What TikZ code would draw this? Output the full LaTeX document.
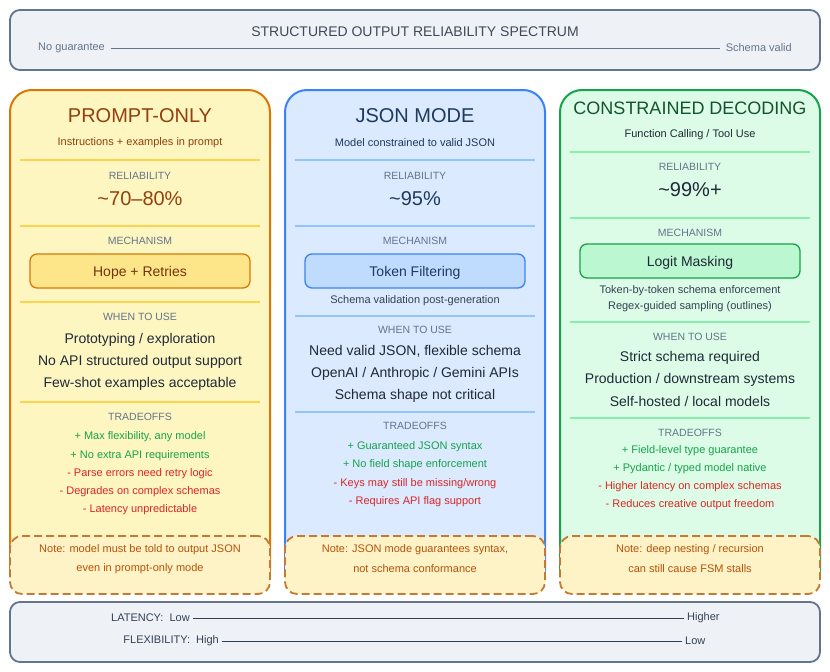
\documentclass[tikz,border=0pt]{standalone}
\usepackage{fontspec}
\setmainfont{Liberation Sans}
\newcommand\fs[1]{\fontsize{#1}{#1}\selectfont}
\definecolor{hdrfill}{HTML}{EEF2F7}
\definecolor{hdrdraw}{HTML}{64748B}
\definecolor{hdrtext}{HTML}{3F4A5A}
\definecolor{labgray}{HTML}{64748B}
\definecolor{bodyc}{HTML}{1F2937}
\definecolor{smallc}{HTML}{334155}
\definecolor{goodc}{HTML}{16A34A}
\definecolor{badc}{HTML}{DC2626}
\definecolor{notefill}{HTML}{FEF3C7}
\definecolor{notec}{HTML}{C27A35}
\definecolor{notetext}{HTML}{B45309}
\definecolor{afill}{HTML}{FEF6C1}
\definecolor{adraw}{HTML}{D97706}
\definecolor{atitle}{HTML}{92400E}
\definecolor{asep}{HTML}{FCD34D}
\definecolor{abox}{HTML}{FDE68A}
\definecolor{bfill}{HTML}{DBEAFE}
\definecolor{bdraw}{HTML}{3B82F6}
\definecolor{btitle}{HTML}{1E3A5F}
\definecolor{bsep}{HTML}{93C5FD}
\definecolor{bbox}{HTML}{BFDBFE}
\definecolor{gfill}{HTML}{DCFCE7}
\definecolor{gdraw}{HTML}{16A34A}
\definecolor{gtitle}{HTML}{14532D}
\definecolor{gsep}{HTML}{86EFAC}
\definecolor{gbox}{HTML}{BBF7D0}
\begin{document}
\begin{tikzpicture}[x=1pt,y=-1pt,
  panel/.style={draw=hdrdraw, fill=hdrfill, line width=1.8pt, rounded corners=10pt, minimum width=810pt, minimum height=60pt, inner sep=0},
  colbox/.style={line width=2pt, rounded corners=22pt, minimum width=260pt, minimum height=502pt, inner sep=0},
  mechbox/.style={line width=1.3pt, rounded corners=7pt, minimum width=220pt, minimum height=34pt, inner sep=0, font=\fs{14}, text height=10pt, text depth=0pt},
  notebox/.style={draw=notec, fill=notefill, line width=1.8pt, dash pattern=on 8pt off 4pt, rounded corners=12pt, minimum width=260pt, minimum height=58pt, inner sep=0},
  ttl/.style={font=\fs{20}, inner sep=0, yshift=-1.5pt},
  subt/.style={font=\fs{11}, inner sep=0, yshift=-1pt},
  lab/.style={font=\fs{10.5}, text=labgray, inner sep=0, yshift=-1pt},
  big/.style={font=\fs{20}, inner sep=0, yshift=-1.5pt},
  body/.style={font=\fs{14}, text=bodyc, inner sep=0, yshift=-1.5pt},
  small/.style={font=\fs{11}, text=smallc, inner sep=0, yshift=-1pt},
  pro/.style={font=\fs{11}, text=goodc, inner sep=0, yshift=-1pt},
  con/.style={font=\fs{11}, text=badc, inner sep=0, yshift=-1pt},
  note/.style={font=\fs{11}, text=notetext, inner sep=0, yshift=-1pt},
  hdr/.style={font=\fs{11}, text=labgray, inner sep=0, yshift=-1pt},
  ftr/.style={font=\fs{11}, text=smallc, inner sep=0, yshift=-1pt},
  sepline/.style={line width=2pt}
]
\useasboundingbox (0,0) rectangle (830,672);
% header
\node[panel] (hdr) at (415,40) {};
\node[font=\fs{14}, text=hdrtext, inner sep=0, yshift=-1.5pt] (htitle) at (415,30) {STRUCTURED OUTPUT RELIABILITY SPECTRUM};
\node[hdr, anchor=west] (hlo) at (38,47) {No guarantee};
\node[hdr, anchor=east] (hhi) at (792,47) {Schema valid};
\draw[labgray, line width=0.8pt] ([xshift=6pt]hlo.east) -- ([xshift=-6pt]hhi.west);

% ---------- column 1
\node[colbox, draw=adraw, fill=afill] (c1) at (140,341) {};
\node[ttl, text=atitle] (c1t) at (140,114) {PROMPT-ONLY};
\node[subt, text=atitle] (c1s) at (140,142) {Instructions + examples in prompt};
\draw[sepline, asep] (20,160) -- (260,160);
\node[lab] (c1l1) at (140,175) {RELIABILITY};
\node[big, text=atitle] (c1r) at (140,197) {\textasciitilde 70\char"2013 80\%};
\draw[sepline, asep] (20,226) -- (260,226);
\node[lab] (c1l2) at (140,240) {MECHANISM};
\node[mechbox, draw=adraw, fill=abox, text=atitle!80!black] (c1m) at (140,271) {Hope + Retries};
\draw[sepline, asep] (20,302) -- (260,302);
\node[lab] (c1l3) at (140,316) {WHEN TO USE};
\node[body] (c1w1) at (140,338) {Prototyping / exploration};
\node[body] (c1w2) at (140,360) {No API structured output support};
\node[body] (c1w3) at (140,382) {Few-shot examples acceptable};
\draw[sepline, asep] (20,402) -- (260,402);
\node[lab] (c1l4) at (140,416) {TRADEOFFS};
\node[pro] (c1p1) at (140,436) {+ Max flexibility, any model};
\node[pro] (c1p2) at (140,455) {+ No extra API requirements};
\node[con] (c1n1) at (140,473) {- Parse errors need retry logic};
\node[con] (c1n2) at (140,491) {- Degrades on complex schemas};
\node[con] (c1n3) at (140,509) {- Latency unpredictable};
\node[notebox] (c1note) at (140,565) {};
\node[note] (c1na) at (140,549) {Note: model must be told to output JSON};
\node[note] (c1nb) at (140,568) {even in prompt-only mode};

% ---------- column 2
\node[colbox, draw=bdraw, fill=bfill] (c2) at (415,341) {};
\node[ttl, text=btitle] (c2t) at (415,114) {JSON MODE};
\node[subt, text=btitle] (c2s) at (415,142) {Model constrained to valid JSON};
\draw[sepline, bsep] (295,160) -- (535,160);
\node[lab] (c2l1) at (415,175) {RELIABILITY};
\node[big, text=btitle] (c2r) at (415,197) {\textasciitilde 95\%};
\draw[sepline, bsep] (295,226) -- (535,226);
\node[lab] (c2l2) at (415,240) {MECHANISM};
\node[mechbox, draw=bdraw, fill=bbox, text=btitle] (c2m) at (415,271) {Token Filtering};
\node[small] (c2x) at (415,300) {Schema validation post-generation};
\draw[sepline, bsep] (295,316) -- (535,316);
\node[lab] (c2l3) at (415,329) {WHEN TO USE};
\node[body] (c2w1) at (415,350) {Need valid JSON, flexible schema};
\node[body] (c2w2) at (415,372) {OpenAI / Anthropic / Gemini APIs};
\node[body] (c2w3) at (415,394) {Schema shape not critical};
\draw[sepline, bsep] (295,412) -- (535,412);
\node[lab] (c2l4) at (415,425) {TRADEOFFS};
\node[pro] (c2p1) at (415,446) {+ Guaranteed JSON syntax};
\node[pro] (c2p2) at (415,464) {+ No field shape enforcement};
\node[con] (c2n1) at (415,483) {- Keys may still be missing/wrong};
\node[con] (c2n2) at (415,501) {- Requires API flag support};
\node[notebox] (c2note) at (415,565) {};
\node[note] (c2na) at (415,549) {Note: JSON mode guarantees syntax,};
\node[note] (c2nb) at (415,568) {not schema conformance};

% ---------- column 3
\node[colbox, draw=gdraw, fill=gfill] (c3) at (690,341) {};
\node[font=\fs{18}, text=gtitle, inner sep=0, yshift=-1.5pt] (c3t) at (690,107) {CONSTRAINED DECODING};
\node[subt, text=bodyc] (c3s) at (690,134) {Function Calling / Tool Use};
\draw[sepline, gsep] (570,152) -- (810,152);
\node[lab] (c3l1) at (690,166) {RELIABILITY};
\node[big, text=bodyc] (c3r) at (690,188) {\textasciitilde 99\%+};
\draw[sepline, gsep] (570,218) -- (810,218);
\node[lab] (c3l2) at (690,232) {MECHANISM};
\node[mechbox, draw=gdraw, fill=gbox, text=bodyc] (c3m) at (690,261) {Logit Masking};
\node[small] (c3x1) at (690,290) {Token-by-token schema enforcement};
\node[small] (c3x2) at (690,306) {Regex-guided sampling (outlines)};
\draw[sepline, gsep] (570,322) -- (810,322);
\node[lab] (c3l3) at (690,336) {WHEN TO USE};
\node[body] (c3w1) at (690,356) {Strict schema required};
\node[body] (c3w2) at (690,378) {Production / downstream systems};
\node[body] (c3w3) at (690,400) {Self-hosted / local models};
\draw[sepline, gsep] (570,418) -- (810,418);
\node[lab] (c3l4) at (690,432) {TRADEOFFS};
\node[pro] (c3p1) at (690,450) {+ Field-level type guarantee};
\node[pro] (c3p2) at (690,468) {+ Pydantic / typed model native};
\node[con] (c3n1) at (690,486) {- Higher latency on complex schemas};
\node[con] (c3n2) at (690,504) {- Reduces creative output freedom};
\node[notebox] (c3note) at (690,565) {};
\node[note] (c3na) at (690,549) {Note: deep nesting / recursion};
\node[note] (c3nb) at (690,568) {can still cause FSM stalls};

% footer
\node[panel] (ftr) at (415,632) {};
\node[ftr, anchor=east] (lat) at (190,617) {LATENCY:\ \ Low};
\node[ftr, anchor=west] (lathi) at (687,617) {Higher};
\draw[smallc, line width=0.8pt] ([xshift=3pt]lat.east) -- ([xshift=-3pt]lathi.west);
\node[ftr, anchor=east] (flx) at (219,640) {FLEXIBILITY:\ \ High};
\node[ftr, anchor=west] (flxlo) at (685,640) {Low};
\draw[smallc, line width=0.8pt] ([xshift=3pt]flx.east) -- ([xshift=-3pt]flxlo.west);
\end{tikzpicture}
\end{document}
